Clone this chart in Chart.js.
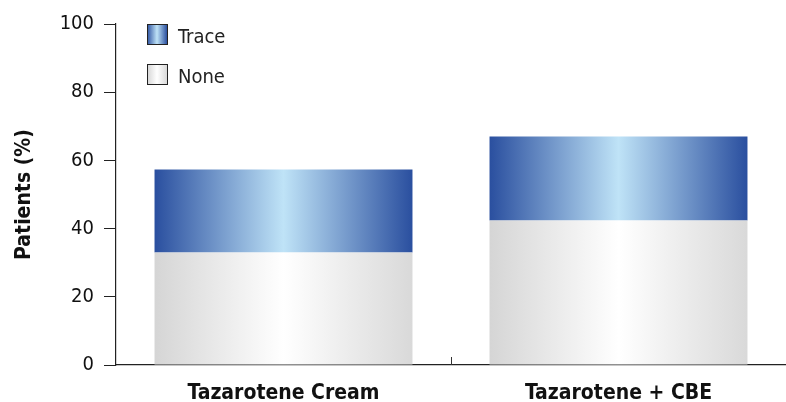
<!DOCTYPE html>
<html>
<head>
<meta charset="utf-8">
<script src="https://cdn.jsdelivr.net/npm/chart.js@4"></script>
<style>
  html, body { margin: 0; padding: 0; background: #fff; }
  #wrap { width: 786px; height: 402px; position: relative; }
</style>
</head>
<body>
<div id="wrap"><canvas id="chart"></canvas></div>
<script>
const categories = ["Tazarotene Cream", "Tazarotene + CBE"];
const noneValues = [33.0, 42.4];
const traceValues = [24.3, 24.6];
const yTicks = [0, 20, 40, 60, 80, 100];

const FONT = "'Liberation Sans Narrow', 'Arial Narrow', 'DejaVu Sans Condensed', sans-serif";

const blueStops = ["#2a4f9f", "#bfe3f7", "#2a4f9f"];
const greyStops = ["#d5d5d5", "#ffffff", "#d9d9d9"];

function hGradient(ctx, x0, x1, stops) {
  const g = ctx.createLinearGradient(x0, 0, x1, 0);
  g.addColorStop(0, stops[0]);
  g.addColorStop(0.5, stops[1]);
  g.addColorStop(1, stops[2]);
  return g;
}

// gradient spanning each bar's own width
function barFill(stops) {
  return (c) => {
    const chart = c.chart;
    const xs = chart.scales.x;
    if (!chart.chartArea || !xs || c.dataIndex === undefined) return stops[0];
    const cx = xs.getPixelForValue(c.dataIndex);
    const w = xs.width / categories.length * 0.77;
    return hGradient(chart.ctx, cx - w / 2, cx + w / 2, stops);
  };
}

const extras = {
  id: "extras",
  afterDraw(chart) {
    const { ctx, chartArea } = chart;
    const xs = chart.scales.x;
    ctx.save();
    // upward tick between categories
    ctx.strokeStyle = "#333";
    ctx.lineWidth = 1;
    for (let i = 0; i < categories.length - 1; i++) {
      const x = Math.round((xs.getPixelForValue(i) + xs.getPixelForValue(i + 1)) / 2) + 0.5;
      ctx.beginPath();
      ctx.moveTo(x, chartArea.bottom);
      ctx.lineTo(x, chartArea.bottom - 8);
      ctx.stroke();
    }
    // legend inside plot, top-left
    const items = [
      { label: chart.data.datasets[1].label, stops: blueStops },
      { label: chart.data.datasets[0].label, stops: greyStops }
    ];
    const bx = chartArea.left + 31;
    items.forEach((it, i) => {
      const by = chartArea.top + i * 40;
      ctx.fillStyle = hGradient(ctx, bx, bx + 20, it.stops);
      ctx.fillRect(bx, by, 20, 20);
      ctx.strokeStyle = "#222";
      ctx.lineWidth = 1;
      ctx.strokeRect(bx + 0.5, by + 0.5, 20, 20);
      ctx.fillStyle = "#222";
      ctx.font = "20px " + FONT;
      ctx.textBaseline = "middle";
      ctx.fillText(it.label, bx + 31, by + 14);
    });
    ctx.restore();
  }
};

new Chart(document.getElementById("chart"), {
  type: "bar",
  data: {
    labels: categories,
    datasets: [
      { label: "None", data: noneValues, backgroundColor: barFill(greyStops) },
      { label: "Trace", data: traceValues, backgroundColor: barFill(blueStops) }
    ]
  },
  options: {
    responsive: true,
    maintainAspectRatio: false,
    animation: false,
    layout: { padding: { top: 24, right: 0, left: 12, bottom: 0 } },
    plugins: {
      legend: { display: false },
      tooltip: { enabled: false }
    },
    datasets: {
      bar: { categoryPercentage: 0.77, barPercentage: 1 }
    },
    scales: {
      x: {
        stacked: true,
        grid: { display: false },
        border: { color: "#222", width: 1.2 },
        ticks: {
          color: "#111",
          padding: 8,
          font: { family: FONT, size: 21, weight: "bold" }
        },
        afterFit(s) { s.height = 37; }
      },
      y: {
        stacked: true,
        min: 0,
        max: 100,
        afterBuildTicks(s) { s.ticks = yTicks.map(v => ({ value: v })); },
        grid: { drawOnChartArea: false, tickLength: 12, color: "#222" },
        border: { color: "#222", width: 1.2 },
        ticks: {
          color: "#111",
          padding: 10,
          font: { family: FONT, size: 20 }
        },
        title: {
          display: true,
          text: "Patients (%)",
          color: "#111",
          padding: { top: 0, bottom: 0 },
          font: { family: FONT, size: 21, weight: "bold" }
        },
        afterFit(s) { s.width = 104; }
      }
    }
  },
  plugins: [extras]
});
</script>
</body>
</html>
